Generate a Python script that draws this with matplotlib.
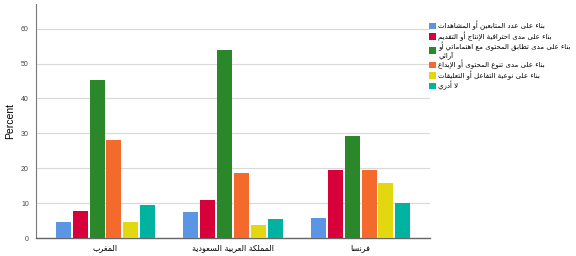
import numpy as np
import matplotlib
matplotlib.use('Agg')
import matplotlib.pyplot as plt

# --- data ---
countries = ['المغرب', 'المملكة العربية السعودية', 'فرنسا']
series_labels = [
    'بناء على عدد المتابعين أو المشاهدات',
    'بناء على مدى احترافية الإنتاج أو التقديم',
    'بناء على مدى تطابق المحتوى مع اهتماماتي أو\nآرائي',
    'بناء على مدى تنوع المحتوى أو الإبداع',
    'بناء على نوعية التفاعل أو التعليقات',
    'لا أدري',
]
followers = [4.7, 7.6, 5.9]
production = [7.8, 11.0, 19.6]
match_interest = [45.3, 54.0, 29.4]
variety = [28.0, 18.6, 19.6]
interaction = [4.7, 3.7, 15.8]
dont_know = [9.4, 5.6, 10.0]
colors = ['#5A96E3', '#D7003A', '#2A882A', '#F36A2C', '#E3D710', '#00B3A0']

# --- minimal arabic shaping (presentation forms + visual order) ---
_letters = 'ءآأؤإئابةتثجحخدذرزسشصضطظعغفقكلمنهوىي'
_counts = [1, 2, 2, 2, 2, 4, 2, 4, 2, 4, 4, 4, 4, 4, 2, 2, 2, 2, 4, 4, 4, 4,
           4, 4, 4, 4, 4, 4, 4, 4, 4, 4, 4, 2, 2, 4]
FORMS = {}
cp = 0xFE80
for ch, n in zip(_letters, _counts):
    FORMS[ch] = [chr(cp + k) for k in range(n)]
    cp += n
LAMALEF = {'آ': 0xFEF5, 'أ': 0xFEF7, 'إ': 0xFEF9, 'ا': 0xFEFB}


def shape(text):
    tokens = []
    i = 0
    while i < len(text):
        if text[i] == 'ل' and i + 1 < len(text) and text[i + 1] in LAMALEF:
            tokens.append(('LA', text[i + 1]))
            i += 2
        else:
            tokens.append(text[i])
            i += 1

    def dual(t):
        return isinstance(t, str) and t in FORMS and len(FORMS[t]) == 4

    def letter(t):
        return isinstance(t, tuple) or t in FORMS

    out = []
    for k, t in enumerate(tokens):
        prev = tokens[k - 1] if k > 0 else None
        nxt = tokens[k + 1] if k + 1 < len(tokens) else None
        p = prev is not None and dual(prev)
        if isinstance(t, tuple):
            out.append(chr(LAMALEF[t[1]] + (1 if p else 0)))
            continue
        if t not in FORMS:
            out.append(t)
            continue
        f = FORMS[t]
        n = len(f) == 4 and nxt is not None and letter(nxt)
        idx = 3 if (p and n) else 1 if p else 2 if n else 0
        if idx >= len(f):
            idx = 0
        out.append(f[idx])
    return ''.join(reversed(out))


def shape_lines(text):
    return '\n'.join(shape(line) for line in text.split('\n'))


series = [followers, production, match_interest, variety, interaction, dont_know]

fig = plt.figure(figsize=(5.76, 2.56), dpi=100)
ax = fig.add_axes([0.062, 0.069, 0.685, 0.915])

x = np.arange(len(countries))
pitch = 0.132
width = 0.118
for i, (vals, c, lab) in enumerate(zip(series, colors, series_labels)):
    ax.bar(x + (i - 2.5) * pitch, vals, width, color=c, label=shape_lines(lab),
           zorder=3, linewidth=0)

ax.set_xlim(-0.547, 2.546)
ax.set_ylim(0, 67)
ax.set_yticks(np.arange(0, 61, 10))
ax.yaxis.grid(True, color='#D9D9D9', linewidth=0.8, zorder=0)
ax.set_axisbelow(True)
ax.tick_params(axis='both', length=0)
ax.tick_params(axis='y', labelsize=5, labelcolor='#444444', pad=5)
for t in ax.get_yticklabels():
    t.set_family('Liberation Sans')
ax.set_xticks(x)
ax.set_xticklabels([shape(c) for c in countries], fontsize=5.8,
                   family='DejaVu Sans')
ax.tick_params(axis='x', pad=3.5)
ax.set_ylabel('Percent', fontsize=7.5, family='Liberation Sans', labelpad=4)

for s in ['top', 'right']:
    ax.spines[s].set_visible(False)
ax.spines['left'].set_color('#777777')
ax.spines['bottom'].set_color('#666666')
ax.spines['left'].set_linewidth(0.8)
ax.spines['bottom'].set_linewidth(1.0)

leg = fig.legend(loc='upper left', bbox_to_anchor=(0.745, 0.918), frameon=False,
                 prop={'family': 'DejaVu Sans', 'size': 5.0}, handlelength=1.0,
                 handleheight=1.0, handletextpad=0.3, labelspacing=0.12,
                 borderaxespad=0, borderpad=0)
for t in leg.get_texts():
    t.set_linespacing(1.0)

fig.savefig('out.png', dpi=100)
